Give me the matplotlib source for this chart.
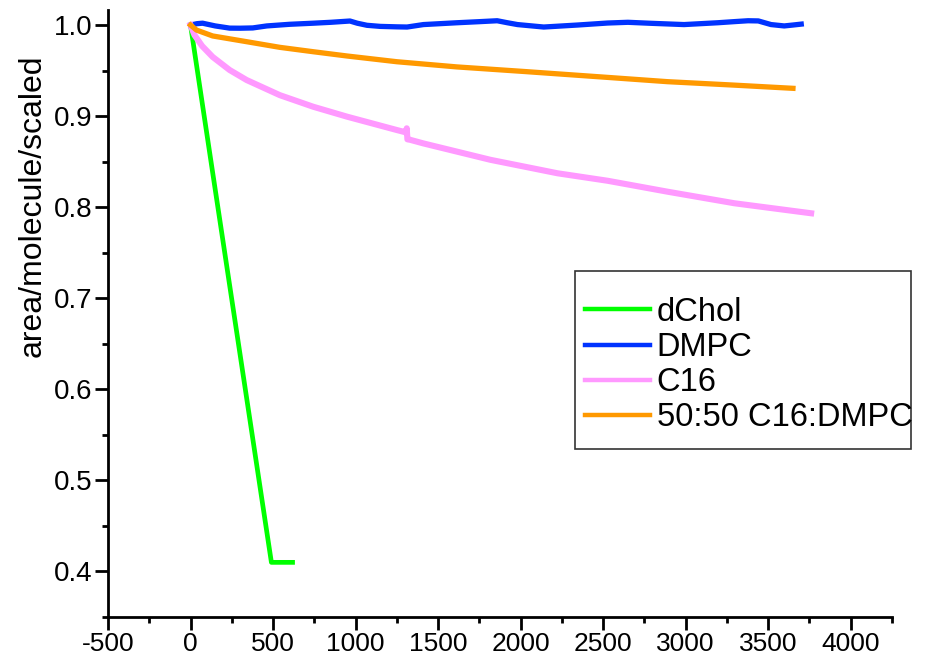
import matplotlib
matplotlib.use("Agg")
import matplotlib.pyplot as plt
from matplotlib.ticker import MultipleLocator
from matplotlib.patches import Rectangle

plt.rcParams['font.family'] = ['Liberation Sans', 'DejaVu Sans']
plt.rcParams['axes.unicode_minus'] = False

# dChol
dchol_x = [0, 120, 490, 618]
dchol_y = [1.0, 0.855, 0.410, 0.410]

# DMPC
dmpc_x = [0, 40, 73, 150, 237, 300, 377, 462, 600, 743, 850, 966, 1010, 1069, 1150, 1250, 1312, 1411, 1614,
          1750, 1858, 1920, 1981, 2140, 2345, 2527, 2650, 2789, 2990, 3194, 3300, 3378, 3440, 3517, 3597, 3650, 3700]
dmpc_y = [1.0, 1.0015, 1.002, 0.999, 0.9966, 0.9965, 0.9968, 0.999, 1.0008, 1.002, 1.003, 1.0044, 1.002,
          0.9997, 0.9985, 0.998, 0.9978, 1.0005, 1.0025, 1.0037, 1.0047, 1.0025, 1.0005, 0.9978, 1.0, 1.0022,
          1.003, 1.0019, 1.0005, 1.0025, 1.0038, 1.0047, 1.0045, 1.0005, 0.999, 1.0, 1.001]

# C16
c16_x = [0, 24, 70, 134, 237, 340, 541, 743, 948, 1250, 1308, 1310, 1314, 1330, 1411, 1817, 2224, 2527,
         2890, 3295, 3760]
c16_y = [1.0, 0.989, 0.977, 0.965, 0.9506, 0.9396, 0.923, 0.9103, 0.8994, 0.8847, 0.882, 0.8866, 0.8745,
         0.874, 0.870, 0.852, 0.8372, 0.829, 0.817, 0.8043, 0.7933]

# 50:50 C16:DMPC
mix_x = [0, 36, 134, 340, 541, 743, 948, 1250, 1614, 2020, 2527, 2890, 3295, 3650]
mix_y = [1.0, 0.9945, 0.988, 0.9817, 0.9755, 0.9707, 0.966, 0.9597, 0.954, 0.949, 0.9425, 0.9378, 0.934, 0.9305]

labels = ["dChol", "DMPC", "C16", "50:50 C16:DMPC"]
colors = ["#00ff00", "#0033ff", "#ff99ff", "#ff9900"]

fig = plt.figure(figsize=(9.28, 6.57), dpi=100)
ax = fig.add_axes([108/928, 40/657, 784/928, 607/657])

ax.plot(dchol_x, dchol_y, color=colors[0], lw=3.4, label=labels[0], solid_joinstyle="round")
ax.plot(dmpc_x, dmpc_y, color=colors[1], lw=3.8, label=labels[1], solid_joinstyle="round")
ax.plot(c16_x, c16_y, color=colors[2], lw=4.4, label=labels[2], solid_joinstyle="round")
ax.plot(mix_x, mix_y, color=colors[3], lw=3.8, label=labels[3], solid_joinstyle="round")

ax.set_xlim(-500, 4250)
ax.set_ylim(0.35, 1.0165)
ax.xaxis.set_major_locator(MultipleLocator(500))
ax.xaxis.set_minor_locator(MultipleLocator(250))
ax.yaxis.set_minor_locator(MultipleLocator(0.05))
ax.set_yticks([0.4, 0.5, 0.6, 0.7, 0.8, 0.9, 1.0])
ax.set_yticklabels(["0.4", "0.5", "0.6", "0.7", "0.8", "0.9", "1.0"])

for s in ["top", "right"]:
    ax.spines[s].set_visible(False)
for s in ["left", "bottom"]:
    ax.spines[s].set_linewidth(2)
ax.tick_params(which="major", direction="out", length=9.5, width=2)
ax.tick_params(axis="y", which="major", pad=2, labelsize=20)
ax.tick_params(axis="x", which="major", pad=1, labelsize=19)
ax.tick_params(which="minor", direction="out", length=4.5, width=2)

ax.set_ylabel("area/molecule/scaled", fontsize=23)
ax.yaxis.set_label_coords(-0.077, 0.677)

leg = ax.legend(loc="upper left", bbox_to_anchor=((571-108)/784, (617-283)/607),
                fontsize=23.5, frameon=False,
                handlelength=2.0, handletextpad=0.2, labelspacing=0.13,
                borderpad=0.42, borderaxespad=0)
for ln in leg.get_lines():
    ln.set_linewidth(3.2)

# legend frame box
ax.add_patch(Rectangle(((575-108)/784, (617-449)/607), (911-575)/784, (449-271)/607,
                       transform=ax.transAxes, fill=False, edgecolor="#333333", lw=1.2,
                       clip_on=False, zorder=5))

fig.savefig("out.png", dpi=100)
